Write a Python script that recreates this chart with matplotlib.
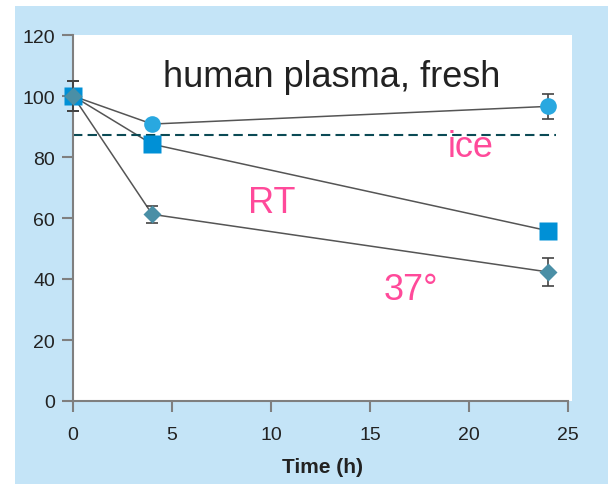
import matplotlib
matplotlib.use("Agg")
import matplotlib.pyplot as plt
from matplotlib.patches import Rectangle

plt.rcParams['font.family'] = ['Liberation Sans', 'DejaVu Sans']

# time points (h)
time_h = [0, 4, 24]

# % remaining
ice_vals = [100, 90.8, 96.6]
ice_err = [5, 0, 4]
rt_vals = [100, 84.2, 55.8]
rt_err = [5, 0, 0]
warm_vals = [100, 61.2, 42.3]
warm_err = [5, 2.7, 4.5]

# dashed reference level
ref_level = 87.2
ref_span = (0, 24.4)

x_ticks = [0, 5, 10, 15, 20, 25]
y_ticks = [0, 20, 40, 60, 80, 100, 120]


def series(ax, vals, err, marker, ms, color, z):
    eb = ax.errorbar(time_h, vals, yerr=err, fmt=marker, ms=ms,
                     mfc=color, mec="none", ecolor="#444444",
                     elinewidth=1.2, capsize=4.3, capthick=1.2, zorder=z)
    for a in eb.get_children():
        a.set_clip_on(False)


def main():
    fig = plt.figure(figsize=(6.08, 4.85), dpi=100)
    fig.patch.set_facecolor("white")
    bg = Rectangle((15 / 608, 0), 1 - 15 / 608, 478 / 485,
                   transform=fig.transFigure, facecolor="#c4e4f7",
                   edgecolor="none", zorder=-1)
    fig.add_artist(bg)

    ax = fig.add_axes([73 / 608, 1 - 402 / 485, 499 / 608, 366 / 485])
    ax.set_facecolor("white")

    # connecting lines
    for vals in (ice_vals, rt_vals, warm_vals):
        ax.plot(time_h, vals, color="#555555", lw=1.1, zorder=2)

    ax.hlines(ref_level, ref_span[0], ref_span[1], colors="#0b4a55",
              linestyles=(0, (4.5, 2.5)), lw=1.5, zorder=2.5)

    series(ax, ice_vals, ice_err, "o", 12, "#29a8e0", 3)
    series(ax, rt_vals, rt_err, "s", 13, "#0090d6", 4)
    series(ax, warm_vals, warm_err, "D", 9.4, "#4a8fa6", 5)

    ax.text(4.55, 103.3, "human plasma, fresh", fontsize=26,
            color="#222222", ha="left", va="baseline")
    pink = "#ff4a9a"
    ax.text(18.9, 80.3, "ice", fontsize=26, color=pink,
            ha="left", va="baseline", zorder=6)
    ax.text(8.85, 62.1, "RT", fontsize=26, color=pink,
            ha="left", va="baseline")
    ax.text(15.7, 33.4, "37°", fontsize=26, color=pink,
            ha="left", va="baseline")

    ax.set_xlim(0, 25.2)
    ax.set_ylim(0, 120)
    ax.set_xticks(x_ticks)
    ax.set_yticks(y_ticks)
    ax.spines["top"].set_visible(False)
    ax.spines["right"].set_visible(False)
    for s in ("left", "bottom"):
        ax.spines[s].set_color("#7f7f7f")
        ax.spines[s].set_linewidth(1.5)
    ax.spines["bottom"].set_bounds(0, 25)
    ax.tick_params(axis="both", direction="out", length=8, width=1.5,
                   color="#7f7f7f", labelsize=14, labelcolor="#222222")
    ax.tick_params(axis="x", pad=10)
    ax.tick_params(axis="y", pad=5)
    ax.set_xlabel("Time (h)", fontsize=15, fontweight="bold",
                  color="#222222", labelpad=10)

    fig.savefig("out.png", dpi=100)


if __name__ == "__main__":
    main()
